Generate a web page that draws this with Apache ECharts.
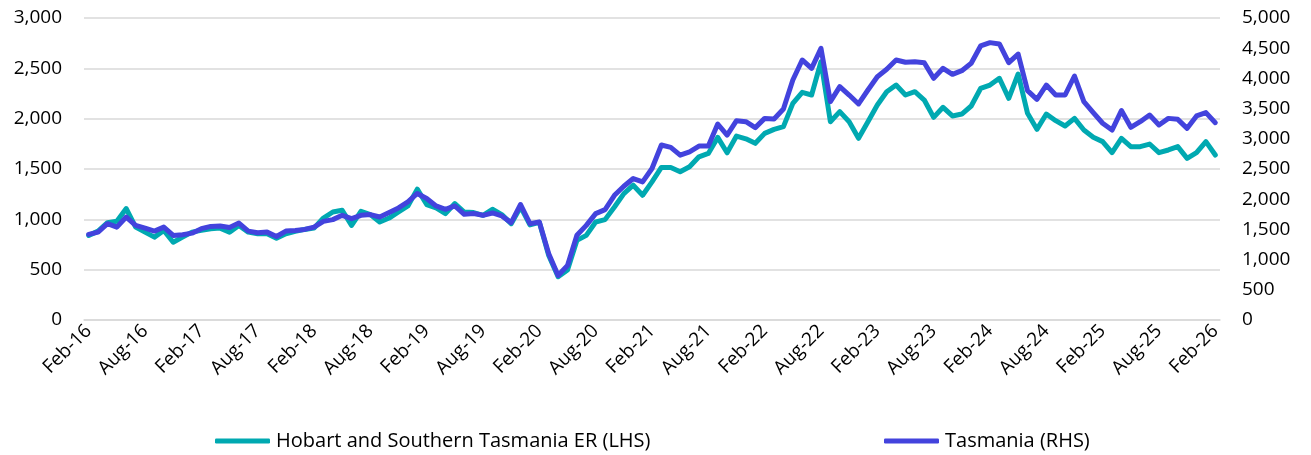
<!DOCTYPE html>
<html>
<head>
    <meta charset="utf-8">
    <title>Hobart and Tasmania</title>
    <script src="https://cdn.jsdelivr.net/npm/echarts/dist/echarts.min.js"></script>
</head>
<style>
    html,
    body {
        margin: 0;
        padding: 0;
        width: 100%;
        height: 100%;
        overflow: hidden;
        background: #fff;
    }
    .my-chart {
        width: 1311px;
        height: 455px;
    }
</style>
<body>
<div class="my-chart"></div>
<script type="text/javascript">
    // monthly, Feb-16 .. Feb-26
    var monthNames = ['Jan', 'Feb', 'Mar', 'Apr', 'May', 'Jun', 'Jul', 'Aug', 'Sep', 'Oct', 'Nov', 'Dec'];
    var startYear = 2016, startMonth = 1, monthCount = 121;

    var hobartER = [
        840, 883, 967, 980, 1107, 923, 873, 823, 890, 773, 823, 873,
        890, 907, 913, 873, 940, 873, 857, 857, 813, 857, 880, 900,
        913, 1013, 1073, 1090, 940, 1080, 1047, 973, 1013, 1073, 1133, 1300,
        1147, 1113, 1057, 1157, 1073, 1067, 1040, 1100, 1047, 957, 1123, 945,
        970, 640, 430, 498, 791, 841, 974, 997, 1123, 1256, 1339, 1239,
        1372, 1515, 1515, 1472, 1522, 1621, 1655, 1814, 1661, 1827, 1800, 1755,
        1854, 1894, 1921, 2152, 2262, 2235, 2566, 1970, 2070, 1970, 1805, 1970,
        2136, 2268, 2334, 2235, 2268, 2185, 2013, 2113, 2027, 2046, 2126, 2300,
        2334, 2401, 2202, 2444, 2053, 1894, 2046, 1980, 1927, 2003, 1887, 1815,
        1772, 1662, 1805, 1722, 1722, 1748, 1662, 1689, 1722, 1606, 1662, 1772,
        1639
    ];

    var tasmania = [
        1417, 1455, 1595, 1538, 1705, 1567, 1522, 1472, 1538, 1400, 1412, 1438,
        1512, 1550, 1555, 1533, 1605, 1472, 1445, 1455, 1383, 1472, 1483, 1500,
        1538, 1633, 1662, 1733, 1678, 1733, 1745, 1705, 1778, 1855, 1955, 2095,
        2012, 1888, 1833, 1888, 1750, 1762, 1733, 1772, 1722, 1612, 1912, 1595,
        1622, 1097, 737, 903, 1402, 1567, 1762, 1827, 2065, 2215, 2342, 2287,
        2508, 2897, 2857, 2730, 2785, 2880, 2880, 3245, 3062, 3300, 3283, 3185,
        3338, 3328, 3493, 3973, 4305, 4167, 4498, 3615, 3863, 3725, 3577, 3808,
        4028, 4150, 4305, 4267, 4277, 4260, 4002, 4167, 4067, 4128, 4250, 4537,
        4592, 4570, 4260, 4403, 3797, 3653, 3890, 3725, 3725, 4040, 3615, 3433,
        3257, 3145, 3467, 3190, 3283, 3393, 3228, 3338, 3322, 3173, 3378, 3433,
        3267
    ];

    var months = [];
    for (var i = 0; i < monthCount; i++) {
        var m = (startMonth + i) % 12;
        var y = startYear + Math.floor((startMonth + i) / 12);
        months.push(monthNames[m] + '-' + String(y).slice(2));
    }

    var font = 'Open Sans';
    var gridColor = '#d9d9d9';
    var colors = ['#00a9b1', '#4343dd'];

    function fmt(v) {
        return v.toLocaleString('en-US');
    }

    var legendBase = {
        top: 431,
        padding: 0,
        itemWidth: 55,
        itemHeight: 5,
        icon: 'roundRect',
        textStyle: {fontFamily: font, fontSize: 20, color: '#000', padding: [0, 0, 0, 1]}
    };

    var myChart = echarts.init(document.querySelector('.my-chart'));
    var option = {
        animation: false,
        color: colors,
        legend: [
            Object.assign({}, legendBase, {left: 215, data: ['Hobart and Southern Tasmania ER (LHS)']}),
            Object.assign({}, legendBase, {left: 884, data: ['Tasmania (RHS)']})
        ],
        grid: {left: 84, right: 91, top: 18, bottom: 135},
        xAxis: {
            type: 'category',
            data: months,
            boundaryGap: true,
            axisLine: {lineStyle: {color: gridColor, width: 1.5}},
            axisTick: {interval: 5, inside: true, length: 6, lineStyle: {color: gridColor, width: 1.5}},
            axisLabel: {
                interval: 5,
                rotate: 45,
                margin: 8,
                fontFamily: font,
                fontSize: 19,
                color: '#000'
            }
        },
        yAxis: [
            {
                type: 'value',
                min: 0,
                max: 3000,
                interval: 500,
                axisLine: {show: false},
                axisTick: {show: false},
                splitLine: {lineStyle: {color: gridColor, width: 1.5}},
                axisLabel: {margin: 22, fontFamily: font, fontSize: 19, color: '#000', formatter: fmt}
            },
            {
                type: 'value',
                min: 0,
                max: 5000,
                interval: 500,
                axisLine: {show: false},
                axisTick: {show: false},
                splitLine: {show: false},
                axisLabel: {margin: 22, fontFamily: font, fontSize: 19, color: '#000', formatter: fmt}
            }
        ],
        series: [
            {
                name: 'Hobart and Southern Tasmania ER (LHS)',
                type: 'line',
                yAxisIndex: 0,
                data: hobartER,
                showSymbol: false,
                lineStyle: {width: 5, cap: 'round', join: 'round'}
            },
            {
                name: 'Tasmania (RHS)',
                type: 'line',
                yAxisIndex: 1,
                data: tasmania,
                showSymbol: false,
                lineStyle: {width: 5, cap: 'round', join: 'round'}
            }
        ]
    };
    myChart.setOption(option);
</script>
</body>
</html>
